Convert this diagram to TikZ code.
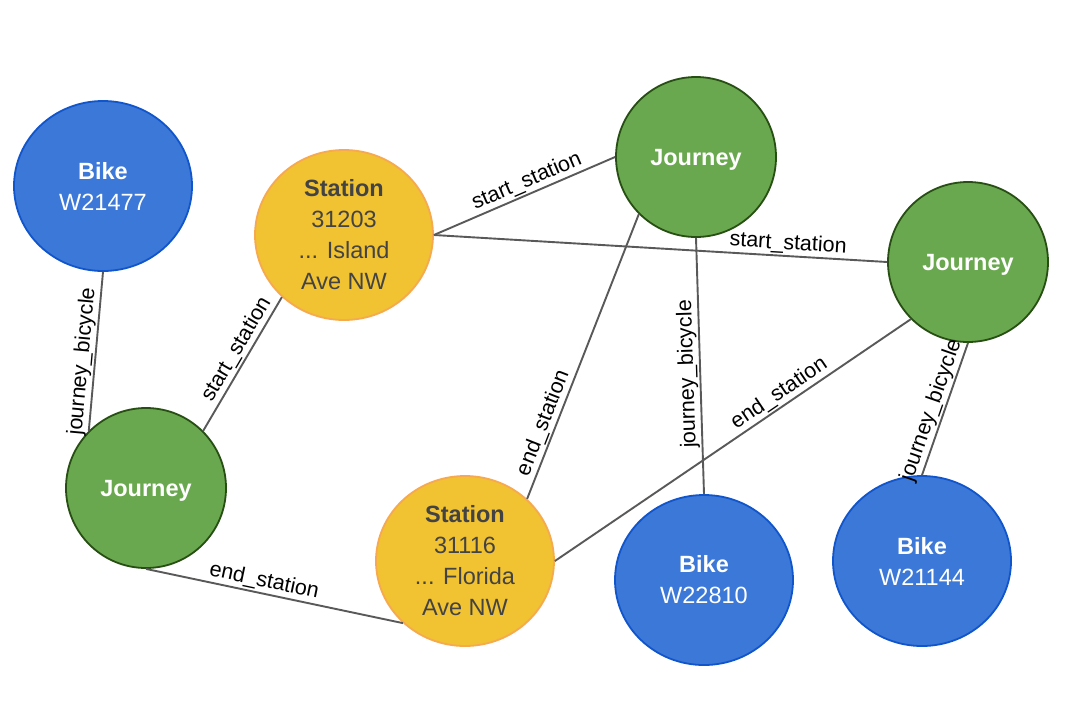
\documentclass[tikz,border=0pt]{standalone}
\usepackage{fontspec}
\setmainfont{Liberation Sans}
\usetikzlibrary{shapes.geometric}
\definecolor{bikefill}{HTML}{3C78D8}
\definecolor{bikeline}{HTML}{1155CC}
\definecolor{stfill}{HTML}{F1C232}
\definecolor{stline}{HTML}{F6A94F}
\definecolor{jfill}{HTML}{6AA84F}
\definecolor{jline}{HTML}{274E13}
\definecolor{edgec}{HTML}{595959}
\definecolor{sttext}{HTML}{434343}
\begin{document}
\begin{tikzpicture}[x=1pt,y=-1pt,
  nodebase/.style={ellipse, draw, line width=1.8pt, inner sep=0pt},
  bike/.style={nodebase, fill=bikefill, draw=bikeline, minimum width=178pt, minimum height=170pt},
  station/.style={nodebase, fill=stfill, draw=stline, minimum width=178pt, minimum height=170pt},
  journey/.style={nodebase, fill=jfill, draw=jline, minimum width=160pt, minimum height=160pt},
  ntext/.style={font=\fontsize{23.5}{31}\selectfont, align=center, inner sep=0pt},
  biketext/.style={ntext, text=white},
  sttextstyle/.style={ntext, text=sttext},
  jtext/.style={ntext, text=white, font=\fontsize{23.5}{31}\selectfont\bfseries, yshift=-2.5pt},
  rel/.style={draw=edgec, line width=1.9pt},
  elabel/.style={font=\fontsize{21.5}{25}\selectfont, sloped, allow upside down, above, inner sep=1.5pt, text=black}
]
\useasboundingbox (0,0) rectangle (1089,713);

% nodes
\node[bike] (b1) at (103,186) {};
\node[biketext] (b1t) at (b1.center) {\textbf{Bike}\\W21477};
\node[station] (s1) at (344,235) {};
\node[sttextstyle] (s1t) at (s1.center) {\textbf{Station}\\31203\\... Island\\Ave NW};
\node[journey] (j1) at (696,157) {};
\node[jtext] (j1t) at (j1.center) {Journey};
\node[journey] (j2) at (968,262) {};
\node[jtext] (j2t) at (j2.center) {Journey};
\node[journey] (j3) at (146,488) {};
\node[jtext] (j3t) at (j3.center) {Journey};
\node[station] (s2) at (465,561) {};
\node[sttextstyle] (s2t) at (s2.center) {\textbf{Station}\\31116\\... Florida\\Ave NW};
\node[bike] (b2) at (704,580) {};
\node[biketext] (b2t) at (b2.center) {\textbf{Bike}\\W22810};
\node[bike] (b3) at (922,561) {};
\node[biketext] (b3t) at (b3.center) {\textbf{Bike}\\W21144};

% connectors
\draw[rel] (j3.135) -- node[elabel, pos=0.43] {journey\_bicycle} (b1.south);
\draw[rel] (j3.45) -- node[elabel, pos=0.56] {start\_station} (s1.225);
\draw[rel] (s1.east) -- node[elabel, pos=0.54] {start\_station} (j1.west);
\draw[rel] (s1.east) -- node[elabel, pos=0.78] {start\_station} (j2.west);
\draw[rel] (s2.45) -- node[elabel, pos=0.25] {end\_station} (j1.225);
\draw[rel] (b2.north) -- node[elabel, pos=0.47] {journey\_bicycle} (j1.south);
\draw[rel] (s2.east) -- node[elabel, pos=0.65] {end\_station} (j2.225);
\draw[rel] (b3.north) -- node[elabel, pos=0.46] {journey\_bicycle} (j2.south);
\draw[rel] (j3.south) -- node[elabel, pos=0.45] {end\_station} (s2.225);
\end{tikzpicture}
\end{document}
